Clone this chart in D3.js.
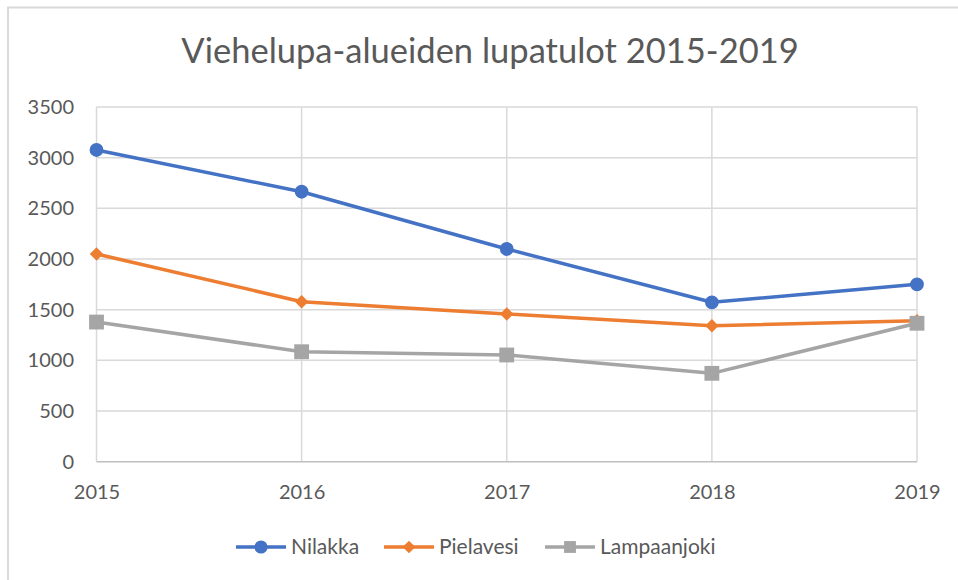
<!DOCTYPE html>
<meta charset="utf-8">

<head>
  <title>Viehelupa-alueiden lupatulot</title>
  <style>
    body { margin: 0; background: #fff; }
    svg { display: block; font-family: Lato, "Open Sans", sans-serif; }
  </style>
  <script src="https://d3js.org/d3.v7.min.js"></script>
</head>

<body>
  <svg width="958" height="580"></svg>

  <script>
    // Data
    var years = [2015, 2016, 2017, 2018, 2019];
    var nilakka = [3076, 2664, 2099, 1573, 1750];
    var pielavesi = [2050, 1579, 1457, 1342, 1391];
    var lampaanjoki = [1378, 1085, 1053, 872, 1366];
    var yTicks = [0, 500, 1000, 1500, 2000, 2500, 3000, 3500];

    // diamond = square turned 45 degrees
    var diamond = {
      draw: function (context, size) {
        var r = Math.sqrt(size / 2);
        context.moveTo(0, -r);
        context.lineTo(r, 0);
        context.lineTo(0, r);
        context.lineTo(-r, 0);
        context.closePath();
      }
    };

    var series = [
      { name: 'Nilakka', values: nilakka, color: '#4472C4', symbol: d3.symbolCircle, size: 150, legendSize: 135 },
      { name: 'Pielavesi', values: pielavesi, color: '#ED7D31', symbol: diamond, size: 90, legendSize: 80 },
      { name: 'Lampaanjoki', values: lampaanjoki, color: '#A5A5A5', symbol: d3.symbolSquare, size: 220, legendSize: 140 }
    ];

    var svg = d3.select('svg');

    // chart frame (only top and left edges visible)
    svg.append('path')
      .attr('d', 'M8,580V7.5H958')
      .attr('fill', 'none')
      .attr('stroke', '#D9D9D9')
      .attr('stroke-width', 2);

    var x = d3.scalePoint()
      .domain(years)
      .range([96.5, 917]);

    var y = d3.scaleLinear()
      .domain([0, 3500])
      .range([461.7, 107]);

    // title
    svg.append('text')
      .attr('x', 490)
      .attr('y', 63)
      .attr('text-anchor', 'middle')
      .attr('fill', '#595959')
      .style('font-size', '34.5px')
      .text('Viehelupa-alueiden lupatulot 2015-2019');

    // horizontal gridlines
    svg.append('g')
      .selectAll('line')
      .data(yTicks.slice(1))
      .join('line')
      .attr('x1', x.range()[0])
      .attr('x2', x.range()[1])
      .attr('y1', function (d) { return y(d); })
      .attr('y2', function (d) { return y(d); })
      .attr('stroke', '#D9D9D9')
      .attr('stroke-width', 1.5);

    // vertical gridlines
    svg.append('g')
      .selectAll('line')
      .data(years)
      .join('line')
      .attr('x1', function (d) { return x(d); })
      .attr('x2', function (d) { return x(d); })
      .attr('y1', y(3500))
      .attr('y2', y(0))
      .attr('stroke', '#D9D9D9')
      .attr('stroke-width', 1.5);

    // base line
    svg.append('line')
      .attr('x1', x.range()[0])
      .attr('x2', x.range()[1])
      .attr('y1', y(0))
      .attr('y2', y(0))
      .attr('stroke', '#BFBFBF')
      .attr('stroke-width', 1.5);

    // y axis labels
    var yAxis = svg.append('g')
      .attr('transform', 'translate(74,0)')
      .call(d3.axisLeft(y).tickValues(yTicks).tickSize(0).tickPadding(0).tickFormat(d3.format('d')))
      .attr('font-family', null)
      .attr('font-size', null);
    yAxis.select('.domain').remove();
    yAxis.selectAll('text')
      .attr('fill', '#595959')
      .style('font-size', '20px');

    // x axis labels
    var xAxis = svg.append('g')
      .attr('transform', 'translate(0,' + (y(0) + 21) + ')')
      .call(d3.axisBottom(x).tickSize(0).tickPadding(0).tickFormat(d3.format('d')))
      .attr('font-family', null)
      .attr('font-size', null);
    xAxis.select('.domain').remove();
    xAxis.selectAll('text')
      .attr('fill', '#595959')
      .attr('dy', '0.35em')
      .attr('y', 9)
      .style('font-size', '20px');

    var line = d3.line()
      .x(function (d, i) { return x(years[i]); })
      .y(function (d) { return y(d); });

    series.forEach(function (s) {
      svg.append('path')
        .datum(s.values)
        .attr('d', line)
        .attr('fill', 'none')
        .attr('stroke', s.color)
        .attr('stroke-width', 3.5)
        .attr('stroke-linejoin', 'round');

      svg.append('g')
        .selectAll('path')
        .data(s.values)
        .join('path')
        .attr('transform', function (d, i) { return 'translate(' + x(years[i]) + ',' + y(d) + ')'; })
        .attr('d', d3.symbol().type(s.symbol).size(s.size))
        .attr('fill', s.color);
    });

    // legend
    var legendX = [236, 384, 545];
    var legend = svg.append('g')
      .selectAll('g')
      .data(series)
      .join('g')
      .attr('transform', function (d, i) { return 'translate(' + legendX[i] + ',547)'; });

    legend.append('line')
      .attr('x1', 0)
      .attr('x2', 50)
      .attr('stroke', function (d) { return d.color; })
      .attr('stroke-width', 3.5);

    legend.append('path')
      .attr('transform', 'translate(25,0)')
      .attr('d', function (d) { return d3.symbol().type(d.symbol).size(d.legendSize)(); })
      .attr('fill', function (d) { return d.color; });

    legend.append('text')
      .attr('x', 55)
      .attr('dy', '0.35em')
      .attr('fill', '#595959')
      .style('font-size', '21px')
      .text(function (d) { return d.name; });
  </script>
</body>

</html>
